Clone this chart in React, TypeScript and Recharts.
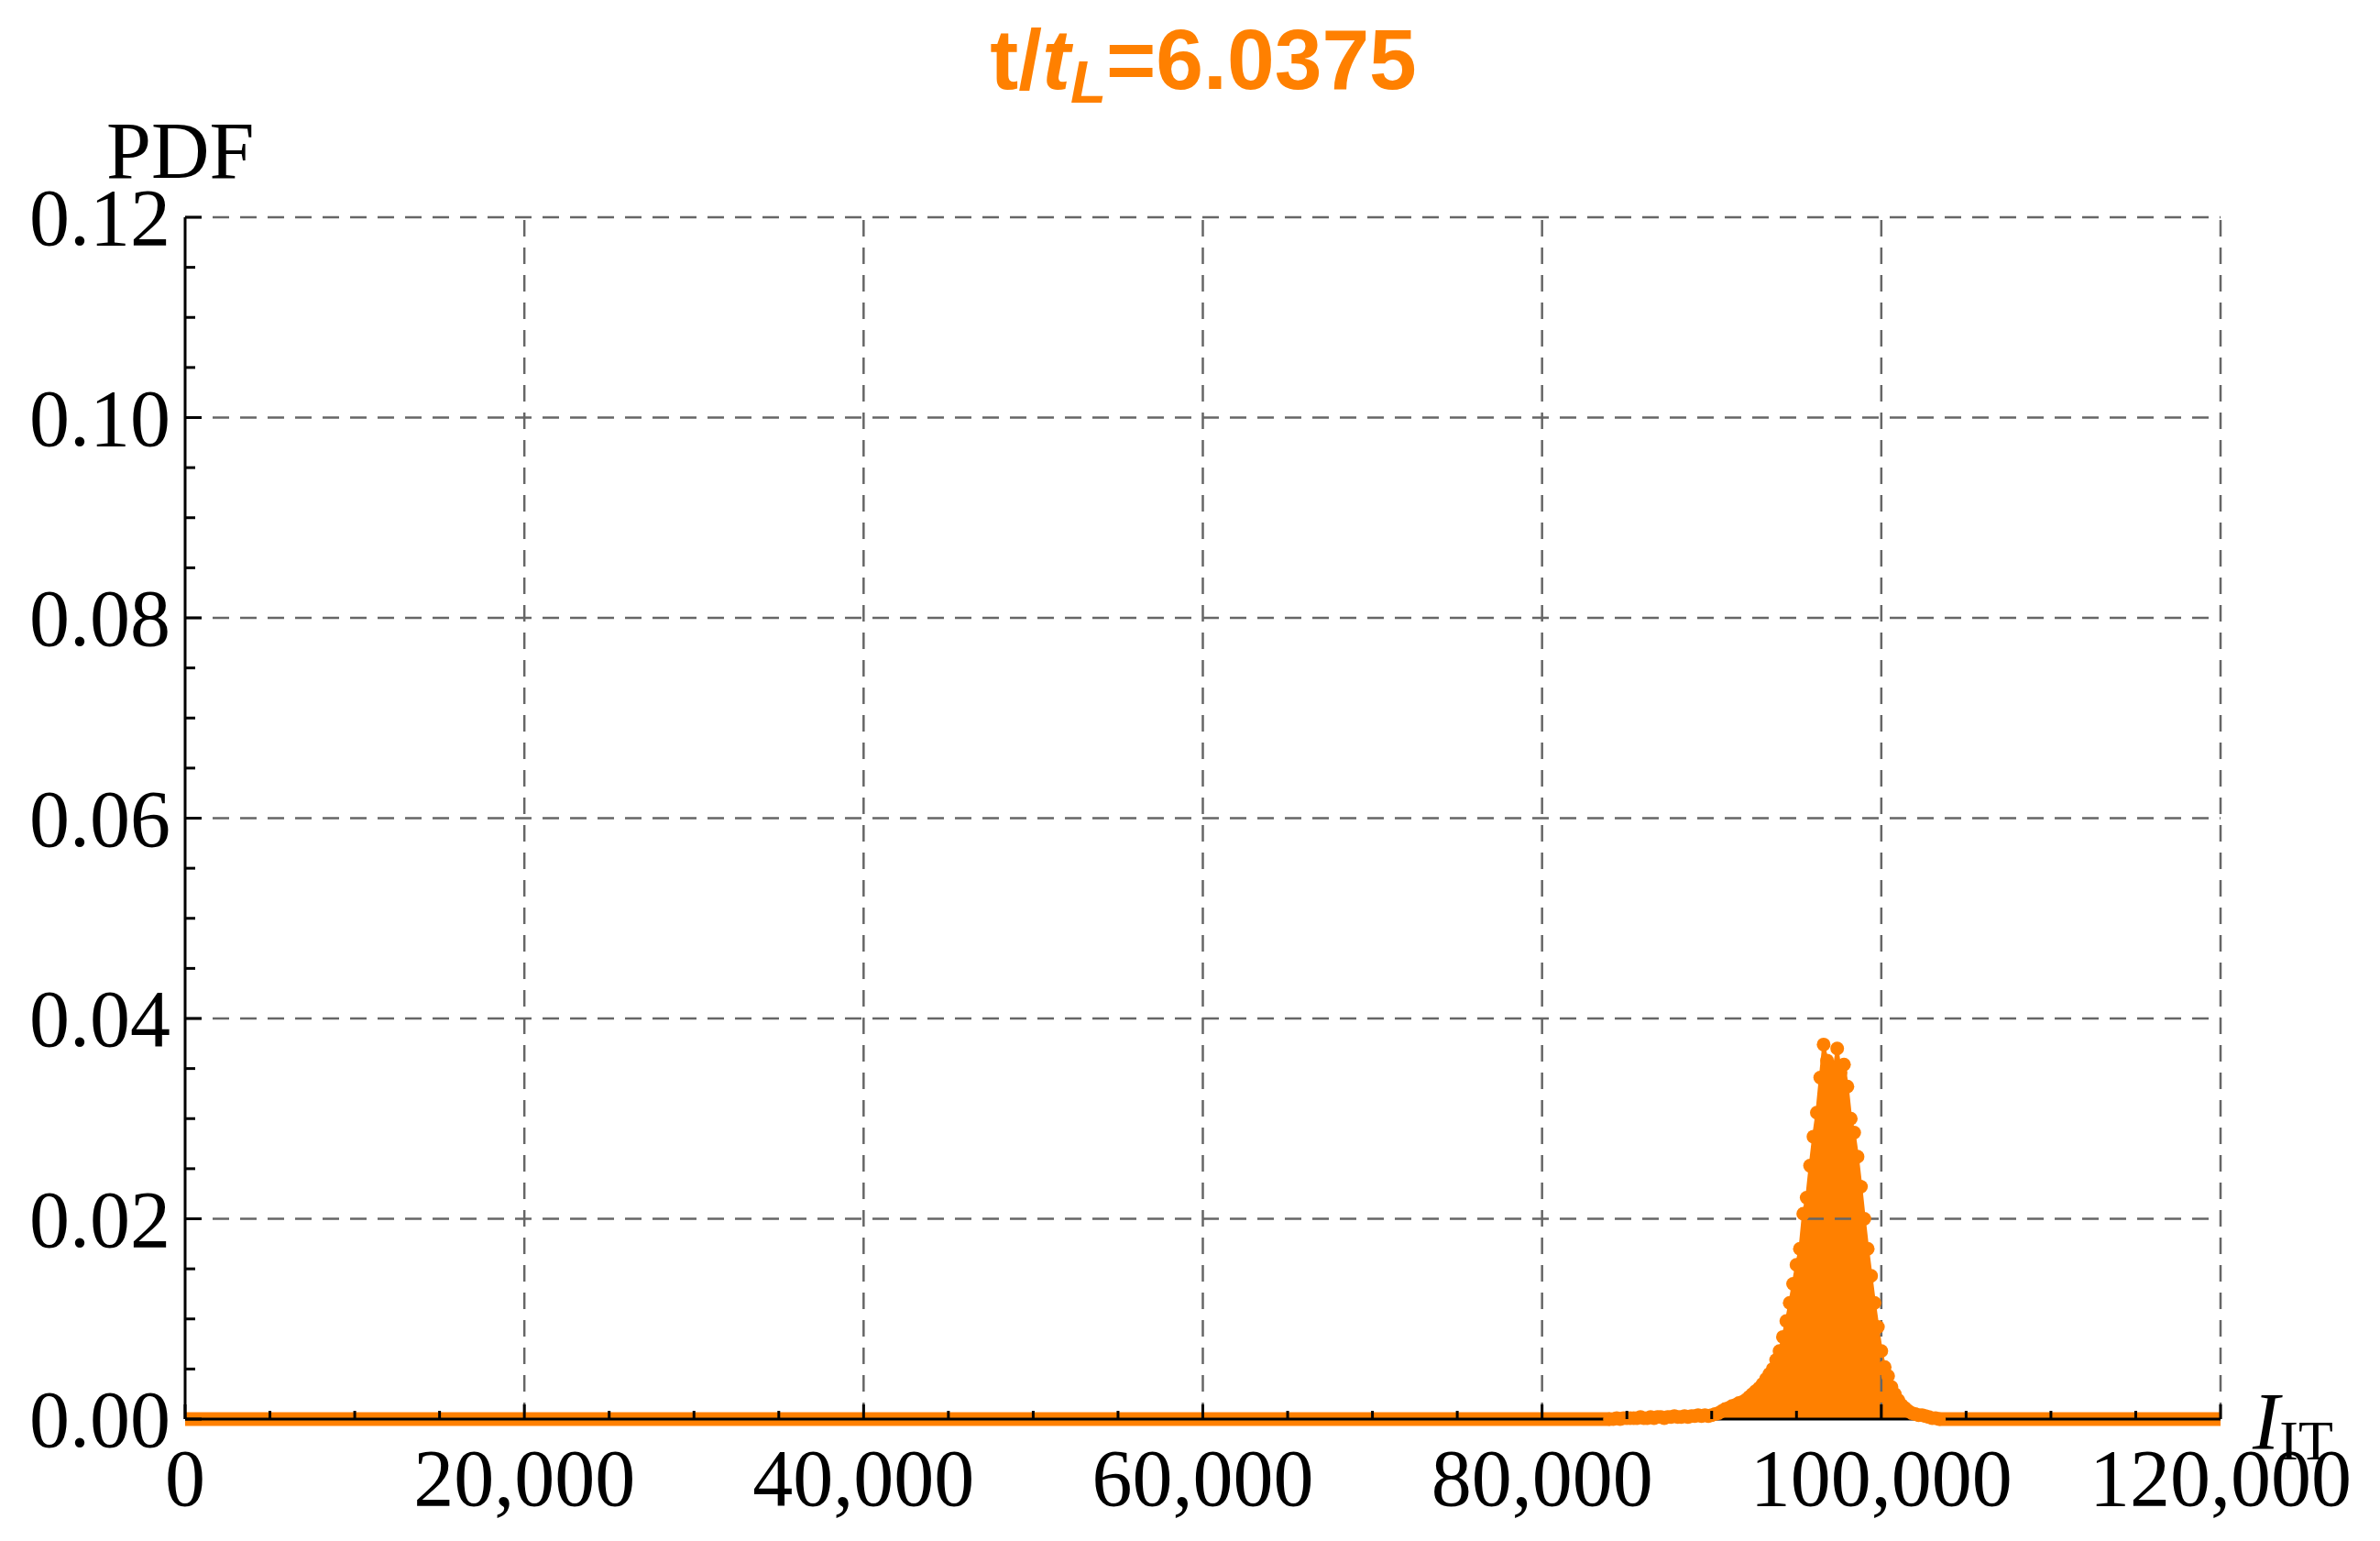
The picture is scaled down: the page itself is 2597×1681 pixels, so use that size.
import React from "react";
import { Area, ComposedChart, Line, ReferenceLine, Scatter, XAxis, YAxis } from "recharts";

const ORANGE = "#ff8000";
const GRID = "#666666";
const SERIF = '"Liberation Serif", "Times New Roman", serif';
const SANS = '"Liberation Sans", Arial, sans-serif';

// I_IT values of the histogram points around the peak
const iIT = [
  84000, 84200, 84400, 84600, 84800, 85000, 85200, 85400, 85600, 85800,
  86000, 86200, 86400, 86600, 86800, 87000, 87200, 87400, 87600, 87800,
  88000, 88200, 88400, 88600, 88800, 89000, 89200, 89400, 89600, 89800,
  90000, 90200, 90400, 90600, 90800, 91000, 91200, 91400, 91600, 91800,
  92000, 92200, 92400, 92600, 92800, 93000, 93200, 93400, 93600, 93800,
  94000, 94200, 94400, 94600, 94800, 95000, 95200, 95400, 95600, 95800,
  96000, 96200, 96400, 96600, 96800, 97000, 97200, 97400, 97600, 97800,
  98000, 98200, 98400, 98600, 98800, 99000, 99200, 99400, 99600, 99800,
  100000, 100200, 100400, 100600, 100800, 101000, 101200, 101400, 101600, 101800,
  102000, 102200, 102400, 102600, 102800, 103000, 103200, 103400,
];

// PDF, same order as iIT
const pdf = [
  0, 0, 0.0001, 0, 0.0001, 0.0001, 0.0001, 0.0001, 0.0001, 0.0002,
  0.0001, 0.0001, 0.0002, 0.0001, 0.0002, 0.0002, 0.0001, 0.0002, 0.0002, 0.0003,
  0.0002, 0.0002, 0.0003, 0.0002, 0.0003, 0.0003, 0.0004, 0.0003, 0.0004, 0.0003,
  0.0004, 0.0005, 0.0006, 0.0008, 0.001, 0.0011, 0.0013, 0.0014, 0.0016, 0.0017,
  0.0019, 0.0022, 0.0025, 0.0028, 0.0031, 0.0035, 0.004, 0.0045, 0.005, 0.0059,
  0.0068, 0.0082, 0.0098, 0.0116, 0.0135, 0.0154, 0.017, 0.0205, 0.0221, 0.0253,
  0.0282, 0.0306, 0.0341, 0.0374, 0.0358, 0.0352, 0.0349, 0.037, 0.0346, 0.0354,
  0.0332, 0.03, 0.0286, 0.0262, 0.0232, 0.02, 0.017, 0.0143, 0.0116, 0.0092,
  0.0068, 0.0052, 0.0043, 0.0032, 0.0025, 0.0019, 0.0014, 0.0011, 0.0008, 0.0006,
  0.0005, 0.0004, 0.0004, 0.0003, 0.0002, 0.0001, 0.0001, 0,
];

// stretches where the PDF is zero (drawn as the thick orange band)
const zeroLeft = [0, 84000];
const zeroRight = [103400, 120000];

const xMajor = [0, 20000, 40000, 60000, 80000, 100000, 120000];
const xMinor = [
  5000, 10000, 15000, 25000, 30000, 35000, 45000, 50000, 55000,
  65000, 70000, 75000, 85000, 90000, 95000, 105000, 110000, 115000,
];
const yMajor = [0, 0.02, 0.04, 0.06, 0.08, 0.1, 0.12];
const yMinor = [
  0.005, 0.01, 0.015, 0.025, 0.03, 0.035, 0.045, 0.05, 0.055,
  0.065, 0.07, 0.075, 0.085, 0.09, 0.095, 0.105, 0.11, 0.115,
];

const rows = iIT.map((x, i) => ({ x, pdf: pdf[i] }));
const baseLeft = zeroLeft.map((x) => ({ x, pdf: 0 }));
const baseRight = zeroRight.map((x) => ({ x, pdf: 0 }));

const xTicks = [...xMajor, ...xMinor].sort((a, b) => a - b);
const yTicks = [...yMajor, ...yMinor].sort((a, b) => a - b);

function XTick(props: any) {
  const { x, y, payload } = props;
  const major = xMajor.includes(payload.value);
  return (
    <g>
      <line x1={x} x2={x} y1={y} y2={y - (major ? 16 : 9)} stroke="#000" strokeWidth={3} />
      {major && (
        <text x={x} y={y + 94} textAnchor="middle" fontFamily={SERIF} fontSize={88} fill="#000">
          {payload.value.toLocaleString("en-US")}
        </text>
      )}
    </g>
  );
}

function YTick(props: any) {
  const { x, y, payload } = props;
  const major = yMajor.includes(payload.value);
  return (
    <g>
      <line x1={x} x2={x + (major ? 18 : 11)} y1={y} y2={y} stroke="#000" strokeWidth={3} />
      {major && (
        <text x={x - 16} y={y + 30} textAnchor="end" fontFamily={SERIF} fontSize={88} fill="#000">
          {payload.value.toFixed(2)}
        </text>
      )}
    </g>
  );
}

export default function App() {
  return (
    <div style={{ position: "absolute", left: 0, top: 0, width: 2597, height: 1681, background: "#fff" }}>
      <ComposedChart
        width={2597}
        height={1681}
        data={rows}
        margin={{ top: 237, right: 174, bottom: 13, left: 0 }}
      >
        {xMajor.slice(1).map((v) => (
          <ReferenceLine key={"gx" + v} x={v} stroke={GRID} strokeWidth={2.5} strokeDasharray="18 12" />
        ))}
        {yMajor.slice(1).map((v) => (
          <ReferenceLine key={"gy" + v} y={v} stroke={GRID} strokeWidth={2.5} strokeDasharray="18 12" />
        ))}
        <Line data={baseLeft} dataKey="pdf" stroke={ORANGE} strokeWidth={15} dot={false} isAnimationActive={false} />
        <Line data={baseRight} dataKey="pdf" stroke={ORANGE} strokeWidth={15} dot={false} isAnimationActive={false} />
        <Area
          type="linear"
          dataKey="pdf"
          fill={ORANGE}
          fillOpacity={1}
          stroke={ORANGE}
          strokeWidth={3}
          isAnimationActive={false}
        />
        <Scatter
          dataKey="pdf"
          fill={ORANGE}
          isAnimationActive={false}
          shape={(p: any) => <circle cx={p.cx} cy={p.cy} r={7.5} fill={ORANGE} />}
        />
        <XAxis
          type="number"
          dataKey="x"
          domain={[0, 120000]}
          ticks={xTicks}
          interval={0}
          tick={<XTick />}
          tickLine={false}
          tickSize={0}
          tickMargin={0}
          axisLine={{ stroke: "#000", strokeWidth: 3 }}
          height={120}
        />
        <YAxis
          type="number"
          domain={[0, 0.12]}
          ticks={yTicks}
          interval={0}
          tick={<YTick />}
          tickLine={false}
          tickSize={0}
          tickMargin={0}
          axisLine={{ stroke: "#000", strokeWidth: 3 }}
          width={202}
        />
      </ComposedChart>
      <svg
        width={2597}
        height={1681}
        style={{ position: "absolute", left: 0, top: 0, pointerEvents: "none" }}
      >
        <text x={1313} y={97} textAnchor="middle" fontFamily={SANS} fontWeight="bold" fontSize={93} fill={ORANGE}>
          <tspan>t/</tspan>
          <tspan fontStyle="italic">t</tspan>
          <tspan fontStyle="italic" fontSize={64} dy={15}>L</tspan>
          <tspan dy={-15}>=6.0375</tspan>
        </text>
        <text x={116} y={194} fontFamily={SERIF} fontSize={88} fill="#000">PDF</text>
        <text x={2458} y={1580} fontFamily={SERIF} fontSize={88} fill="#000">
          <tspan fontStyle="italic">I</tspan>
          <tspan fontSize={62} dy={12}>IT</tspan>
        </text>
      </svg>
    </div>
  );
}
